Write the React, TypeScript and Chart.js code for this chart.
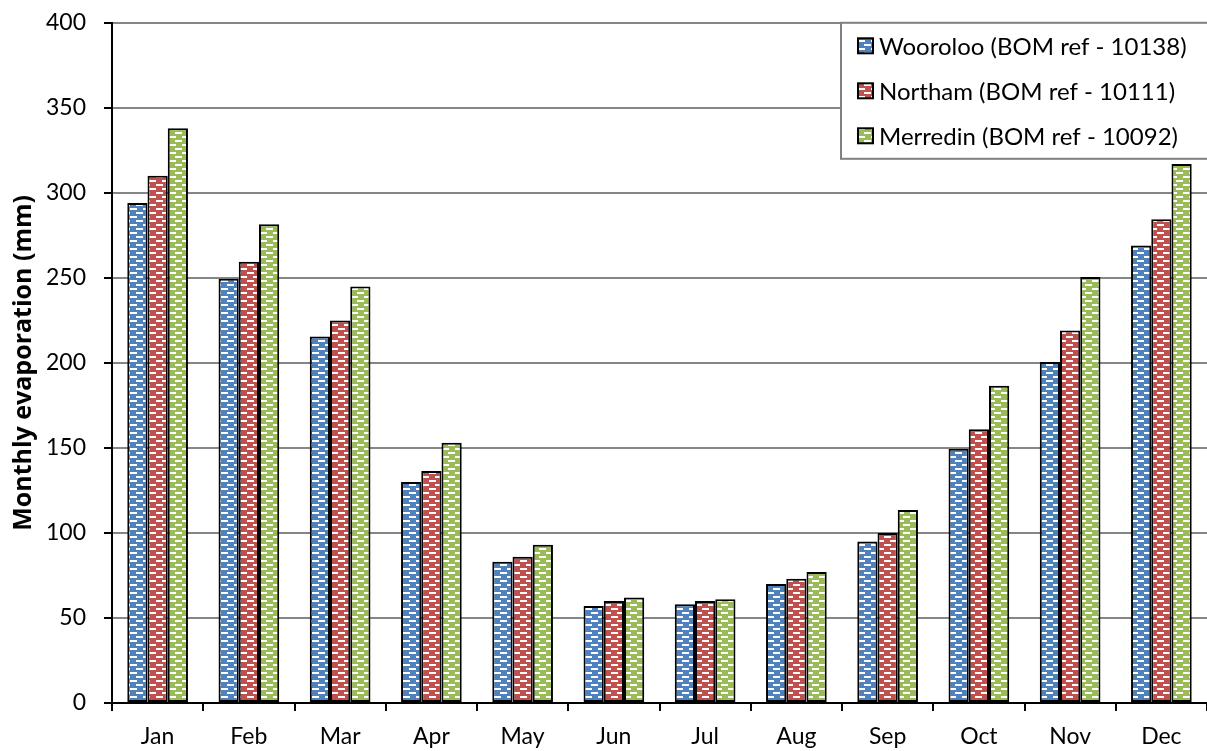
import React, { useEffect, useRef } from "react";
import { Chart, registerables } from "chart.js";

Chart.register(...registerables);

const months = ["Jan", "Feb", "Mar", "Apr", "May", "Jun", "Jul", "Aug", "Sep", "Oct", "Nov", "Dec"];
const wooroloo = [294, 249.5, 215.5, 130, 83, 57, 58, 70, 95, 149.5, 200.5, 269];
const northam = [310, 259.5, 225, 136.5, 86, 60, 60, 73, 100, 161, 219, 284.5];
const merredin = [338, 281.5, 245, 153, 93, 62, 61, 77, 113.5, 186.5, 250.5, 317];
const seriesNames = ["Wooroloo (BOM ref - 10138)", "Northam (BOM ref - 10111)", "Merredin (BOM ref - 10092)"];
const seriesColors = ["#4F81BD", "#C0504D", "#9BBB59"];
const yMin = 0;
const yMax = 400;
const yStep = 50;
const yTitle = "Monthly evaporation (mm)";

const FONT = "Lato, 'Open Sans', sans-serif";

function makePattern(color: string): CanvasPattern | string {
  const c = document.createElement("canvas");
  c.width = 13;
  c.height = 8;
  const g = c.getContext("2d");
  if (!g) return color;
  g.fillStyle = color;
  g.fillRect(0, 0, 13, 8);
  g.fillStyle = "#ffffff";
  g.fillRect(0, 1, 7, 2);
  g.fillRect(6, 5, 7, 2);
  const p = g.createPattern(c, "repeat");
  return p || color;
}

const legendPlugin = {
  id: "boxLegend",
  afterDraw(chart: any) {
    const ctx = chart.ctx as CanvasRenderingContext2D;
    const x0 = 841;
    const y0 = chart.chartArea.top;
    const w = 400;
    const h = 136;
    ctx.save();
    ctx.fillStyle = "#ffffff";
    ctx.fillRect(x0, y0, w, h);
    ctx.strokeStyle = "#808080";
    ctx.lineWidth = 2;
    ctx.strokeRect(x0, y0, w, h);
    const rowH = 45;
    chart.data.datasets.forEach((ds: any, i: number) => {
      const cy = y0 + 23 + i * rowH;
      const s = 15;
      const mx = 858;
      ctx.fillStyle = ds.backgroundColor;
      ctx.fillRect(mx, cy - s / 2, s, s);
      ctx.strokeStyle = "#000000";
      ctx.lineWidth = 2;
      ctx.strokeRect(mx, cy - s / 2, s, s);
      ctx.fillStyle = "#000000";
      ctx.font = `24px ${FONT}`;
      ctx.textBaseline = "middle";
      ctx.textAlign = "left";
      ctx.fillText(ds.label, 879, cy + 1);
    });
    ctx.restore();
  },
};

export default function App() {
  const ref = useRef<HTMLCanvasElement | null>(null);

  useEffect(() => {
    if (!ref.current) return;
    const values = [wooroloo, northam, merredin];
    const chart = new Chart(ref.current, {
      type: "bar",
      data: {
        labels: months,
        datasets: values.map((v, i) => ({
          label: seriesNames[i],
          data: v,
          backgroundColor: makePattern(seriesColors[i]) as any,
          borderColor: "#000000",
          borderWidth: 2,
          borderSkipped: false,
          categoryPercentage: 0.665,
          barPercentage: 1,
        })),
      },
      options: {
        animation: false,
        responsive: true,
        maintainAspectRatio: false,
        layout: { padding: { top: 14, right: 0, left: 0, bottom: 0 } },
        plugins: {
          legend: { display: false },
          tooltip: { enabled: false },
        },
        scales: {
          x: {
            offset: true,
            grid: {
              display: true,
              drawOnChartArea: false,
              drawTicks: true,
              tickLength: 8,
              tickColor: "#000000",
              lineWidth: 2,
              offset: true,
            },
            border: { color: "#000000", width: 2 },
            ticks: {
              color: "#000000",
              font: { family: FONT, size: 23 },
              padding: 12,
              maxRotation: 0,
            },
            afterFit(scale: any) {
              scale.height = 48;
            },
          },
          y: {
            min: yMin,
            max: yMax,
            ticks: {
              stepSize: yStep,
              color: "#000000",
              font: { family: FONT, size: 23 },
              padding: 18,
            },
            grid: {
              color: "#868686",
              lineWidth: 2,
              tickLength: 8,
              tickColor: "#000000",
            },
            border: { color: "#000000", width: 2 },
            title: {
              display: true,
              text: yTitle,
              color: "#000000",
              font: { family: "'Open Sans', Lato, sans-serif", size: 25, weight: "bold" },
              padding: { top: 9, bottom: 0 },
            },
            afterFit(scale: any) {
              scale.width = 112;
            },
          },
        },
      },
      plugins: [legendPlugin],
    });
    return () => chart.destroy();
  }, []);

  return (
    <div style={{ position: "fixed", left: 0, top: 0, width: 1207, height: 751, overflow: "hidden", background: "#fff" }}>
      <div style={{ position: "absolute", left: 0, top: -9, width: 1207, height: 760 }}>
        <canvas ref={ref} />
      </div>
    </div>
  );
}
